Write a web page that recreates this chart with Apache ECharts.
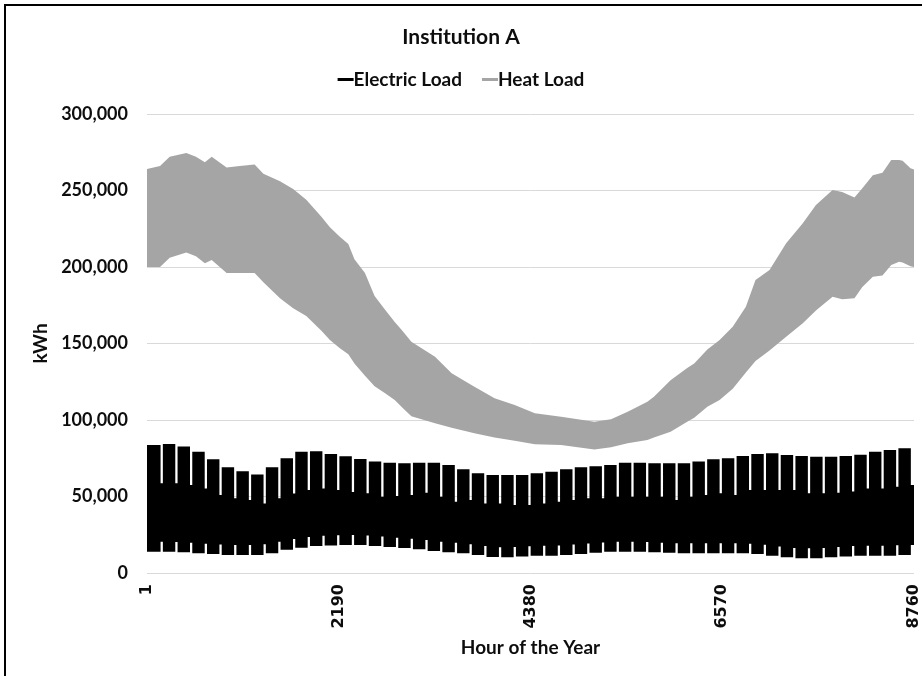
<!DOCTYPE html>
<html><head><meta charset="utf-8">
<script src="https://cdn.jsdelivr.net/npm/echarts@6/dist/echarts.min.js"></script>
<style>html,body{margin:0;padding:0;background:#fff}#c{width:922px;height:676px}</style>
</head><body><div id="c"></div>
<script>
const chartTitle = 'Institution A';
const seriesNames = ['Electric Load', 'Heat Load'];
const xAxisName = 'Hour of the Year';
const yAxisName = 'kWh';
const xTicks = [1, 2190, 4380, 6570, 8760];
const yMin = 0, yMax = 300000, yStep = 50000;

// Heat load envelope (hour, daily max, daily min), kWh
const heatHours = [1,150,260,450,560,662,740,910,1060,1230,1330,1520,1670,1820,1990,2090,2200,2300,2370,2490,2600,2720,2830,2910,3020,3290,3480,3740,3970,4200,4430,4730,5110,5300,5490,5715,5790,5980,6170,6250,6400,6540,6690,6840,6950,7110,7300,7490,7640,7830,7940,8080,8170,8290,8400,8500,8590,8630,8720,8760];
const heatHigh = [264000,266000,272000,274500,272000,268500,272000,265000,266000,267000,261000,256000,251000,244000,233000,226000,220000,215000,205000,196000,181000,172000,164000,158800,151200,141400,130500,121800,114200,109800,104400,102200,98900,100500,105400,112000,115200,126000,134000,137000,146000,152300,161000,174000,191500,198000,215500,228600,240500,250300,249000,245500,251400,260000,261600,270000,270000,269500,264500,263800];
const heatLow = [200000,200000,206000,209500,207000,202500,204500,196000,196000,196000,190000,179500,173000,168000,158500,152300,147000,143000,137000,129000,122000,117500,113000,108500,102500,97800,95000,91300,88500,86500,84100,83700,80800,82200,84800,86900,88500,92400,98900,101500,108700,113100,120500,131000,138500,145500,154400,163200,171500,180600,178900,179500,187000,193700,194500,201300,203500,203000,200500,200000];

// Electric load, per week (weekday max / weekday min) and per weekend (max / min), kWh
const weekHours = 168;
const firstWeekendHour = 169;
const elecPeak = [83700,84300,82600,79300,74300,69100,66500,64400,69100,75000,79300,79600,77800,76300,74500,72800,72000,71700,72000,72000,70600,67800,65200,64000,64000,64000,65200,66200,67800,69100,69700,70600,72000,72000,71700,71700,71700,72800,74300,75000,76500,77800,78200,77100,76500,76000,76000,76500,77300,79300,80400,81500];
const elecLow = [13900,13900,13500,12900,12400,11800,11800,11800,12900,15200,16500,17600,18000,18300,18300,17600,17000,16300,15500,14400,13500,12900,11800,10500,10300,10800,11300,11300,11800,12400,13200,13900,13900,13900,13500,13200,12900,12900,12900,12900,12900,12400,11300,10300,9600,9600,10300,10800,11300,11300,11300,11800];
const elecWkndTop = [58600,58600,57500,55300,51000,48800,47700,45500,48800,52000,54200,55300,54200,53000,52100,49900,50300,51000,52500,49900,46600,47700,45500,45500,44400,44400,45500,46600,47700,48800,48800,49900,49900,49900,49900,47700,49900,51000,52100,51000,54200,54200,54200,54200,52100,52100,52500,53200,55300,55300,56400,57500];
const elecWkndLow = [20400,20300,19700,19100,18600,18300,18300,18800,20500,22300,23500,24300,24600,24800,24500,23800,23100,22400,21500,20400,19700,18800,17600,16900,17000,17500,17800,18000,18600,19300,20000,20400,20400,20200,19800,19500,19400,19400,19400,19400,19100,18400,17300,16400,16100,16400,17000,17600,17800,17800,18100,18300];

const colElec = '#000000';
const colHeat = '#a5a5a5';
const colText = '#0d0d0d';
const FONT = 'Lato';
const FONT_X = 'DejaVu Sans';

// Build [hour, low, high] tables
const heatPts = heatHours.map((h, i) => [h, heatLow[i], heatHigh[i]]);
const elecPts = [];
const halfGap = 13;
const lastHour = xTicks[xTicks.length - 1];
for (let k = 0; k < elecPeak.length; k++) {
  const c = firstWeekendHour + weekHours * k;
  const start = k === 0 ? 1 : firstWeekendHour + weekHours * (k - 1) + halfGap;
  elecPts.push([start, elecLow[k], elecPeak[k]]);
  elecPts.push([c - halfGap, elecLow[k], elecPeak[k]]);
  elecPts.push([c - halfGap, elecWkndLow[k], elecWkndTop[k]]);
  const ge = (k === elecPeak.length - 1) ? lastHour : Math.min(c + halfGap, lastHour);
  elecPts.push([ge, elecWkndLow[k], elecWkndTop[k]]);
}

function bandRender(points, color) {
  return function (params, api) {
    if (params.dataIndex !== 0) return null;
    const upper = points.map(p => api.coord([p[0], p[2]]));
    const lower = points.slice().reverse().map(p => api.coord([p[0], p[1]]));
    return { type: 'polygon', shape: { points: upper.concat(lower) }, style: { fill: color } };
  };
}

const chart = echarts.init(document.getElementById('c'), null, { renderer: 'canvas' });
chart.setOption({
  animation: false,
  backgroundColor: '#ffffff',
  textStyle: { fontFamily: FONT },
  graphic: [{ type: 'rect', shape: { x: 5, y: 5, width: 940, height: 700 }, style: { fill: 'none', stroke: '#000', lineWidth: 2 }, z: 100 }],
  title: { text: chartTitle, left: 'center', top: 22, textStyle: { fontFamily: FONT, fontSize: 21, fontWeight: 'bold', color: colText } },
  legend: {
    top: 65, left: 'center', itemWidth: 16, itemHeight: 3, itemGap: 20, icon: 'rect',
    textStyle: { fontFamily: FONT, fontSize: 19, fontWeight: 'bold', color: colText, padding: [0, 0, 0, -5] },
    data: [
      { name: seriesNames[0], itemStyle: { color: colElec } },
      { name: seriesNames[1], itemStyle: { color: colHeat } }
    ]
  },
  grid: { left: 147, right: 7, top: 114, bottom: 103, containLabel: false },
  xAxis: {
    type: 'value', min: xTicks[0], max: lastHour,
    name: xAxisName, nameLocation: 'middle', nameGap: 65,
    nameTextStyle: { fontFamily: FONT, fontSize: 19, fontWeight: 'bold', color: colText },
    axisLine: { show: false }, axisTick: { show: false }, splitLine: { show: false },
    axisLabel: { customValues: xTicks, rotate: 90, margin: 11, fontFamily: FONT_X, fontSize: 16, fontWeight: 'bold', color: colText, formatter: v => String(v) }
  },
  yAxis: {
    type: 'value', min: yMin, max: yMax, interval: yStep,
    name: yAxisName, nameLocation: 'middle', nameGap: 91, nameRotate: 90,
    nameTextStyle: { fontFamily: FONT, fontSize: 19, fontWeight: 'bold', color: colText },
    axisLine: { show: false }, axisTick: { show: false },
    splitLine: { show: true, lineStyle: { color: '#d9d9d9', width: 1 } },
    axisLabel: { margin: 19, fontFamily: FONT, fontSize: 18, fontWeight: 'bold', color: colText, formatter: v => v.toLocaleString('en-US') }
  },
  series: [
    { name: seriesNames[1], type: 'custom', coordinateSystem: 'cartesian2d', data: heatPts, encode: { x: 0, y: [1, 2] }, itemStyle: { color: colHeat }, renderItem: bandRender(heatPts, colHeat), z: 2 },
    { name: seriesNames[0], type: 'custom', coordinateSystem: 'cartesian2d', data: elecPts, encode: { x: 0, y: [1, 2] }, itemStyle: { color: colElec }, renderItem: bandRender(elecPts, colElec), z: 3 }
  ]
});
</script>
</body></html>
